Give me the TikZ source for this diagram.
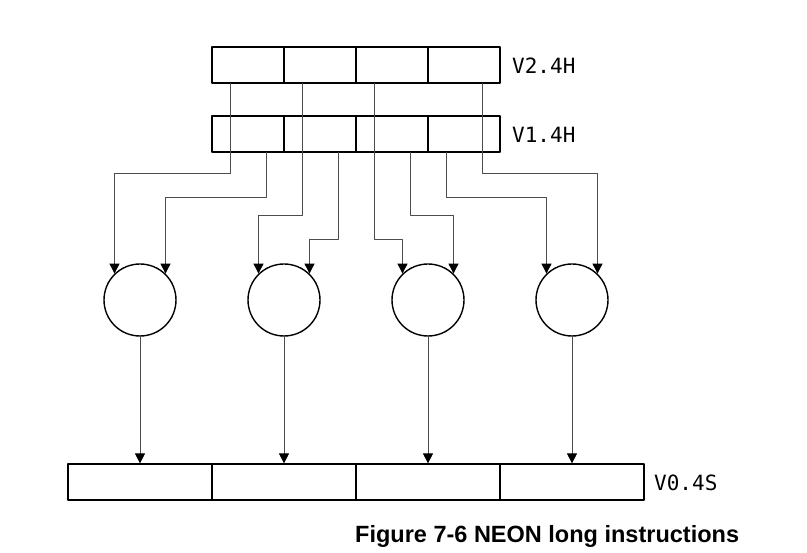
\documentclass[tikz,border=0pt]{standalone}
\usepackage{fontspec}
\newfontfamily\regfont{DejaVu Sans Mono}
\newfontfamily\capfont{Liberation Sans}
\usetikzlibrary{arrows.meta}
\begin{document}
\begin{tikzpicture}[line join=round, line cap=round, >={Triangle[length=10pt,width=10pt,black]}, x=1pt, y=-1pt]
	\tikzset{cell/.style={draw, line width=1.2pt, minimum height=36pt, inner sep=0pt},
		lane/.style={draw=black!70, line width=0.9pt},
		op/.style={draw, circle, line width=1.4pt, minimum size=72pt, inner sep=0pt},
		reg/.style={font=\regfont\fontsize{21}{21}\selectfont, anchor=west, inner sep=0pt}}
	\useasboundingbox (0,0) rectangle (807,553);
	% source registers, four halfwords each
	\foreach \n/\x in {a/248,b/320,c/392,d/464}{
		\node[cell, minimum width=72pt] (v2\n) at (\x,65) {};
		\node[cell, minimum width=72pt] (v1\n) at (\x,134) {};
	}
	\node[reg] (lab2) at (512,66) {V2.4H};
	\node[reg] (lab1) at (512,135) {V1.4H};
	% operations
	\foreach \k/\x in {1/140,2/284,3/428,4/572}
		\node[op] (c\k) at (\x,300) {};
	% destination register, four words
	\foreach \n/\x in {a/140,b/284,c/428,d/572}
		\node[cell, minimum width=144pt] (v0\n) at (\x,482) {};
	\node[reg] (lab0) at (654,483) {V0.4S};
	\path (0,173) coordinate (h1)
	(0,197) coordinate (h2)
	(0,215) coordinate (h3)
	(0,239) coordinate (h4)
	;
	% lanes into the operations
	\foreach \s/\o/\h/\t in {v2a/-18/h1/c1.134, v1a/18/h2/c1.46, v2b/-18/h3/c2.134, v1b/18/h4/c2.46,
		v2c/-18/h4/c3.134, v1c/18/h3/c3.46, v1d/-18/h2/c4.134, v2d/18/h1/c4.46}
		\draw[lane,->] ([xshift=\o pt]\s.south) -- ([xshift=\o pt]\s.south |- \h) -| (\t);
	\foreach \k/\n in {1/a,2/b,3/c,4/d}
		\draw[lane,->] (c\k) -- (v0\n);
	\node[font=\capfont\bfseries\fontsize{23.5}{24}\selectfont, anchor=base west, inner sep=0pt] (cap) at (355,543) {Figure 7-6 NEON long instructions};
\end{tikzpicture}
\end{document}
